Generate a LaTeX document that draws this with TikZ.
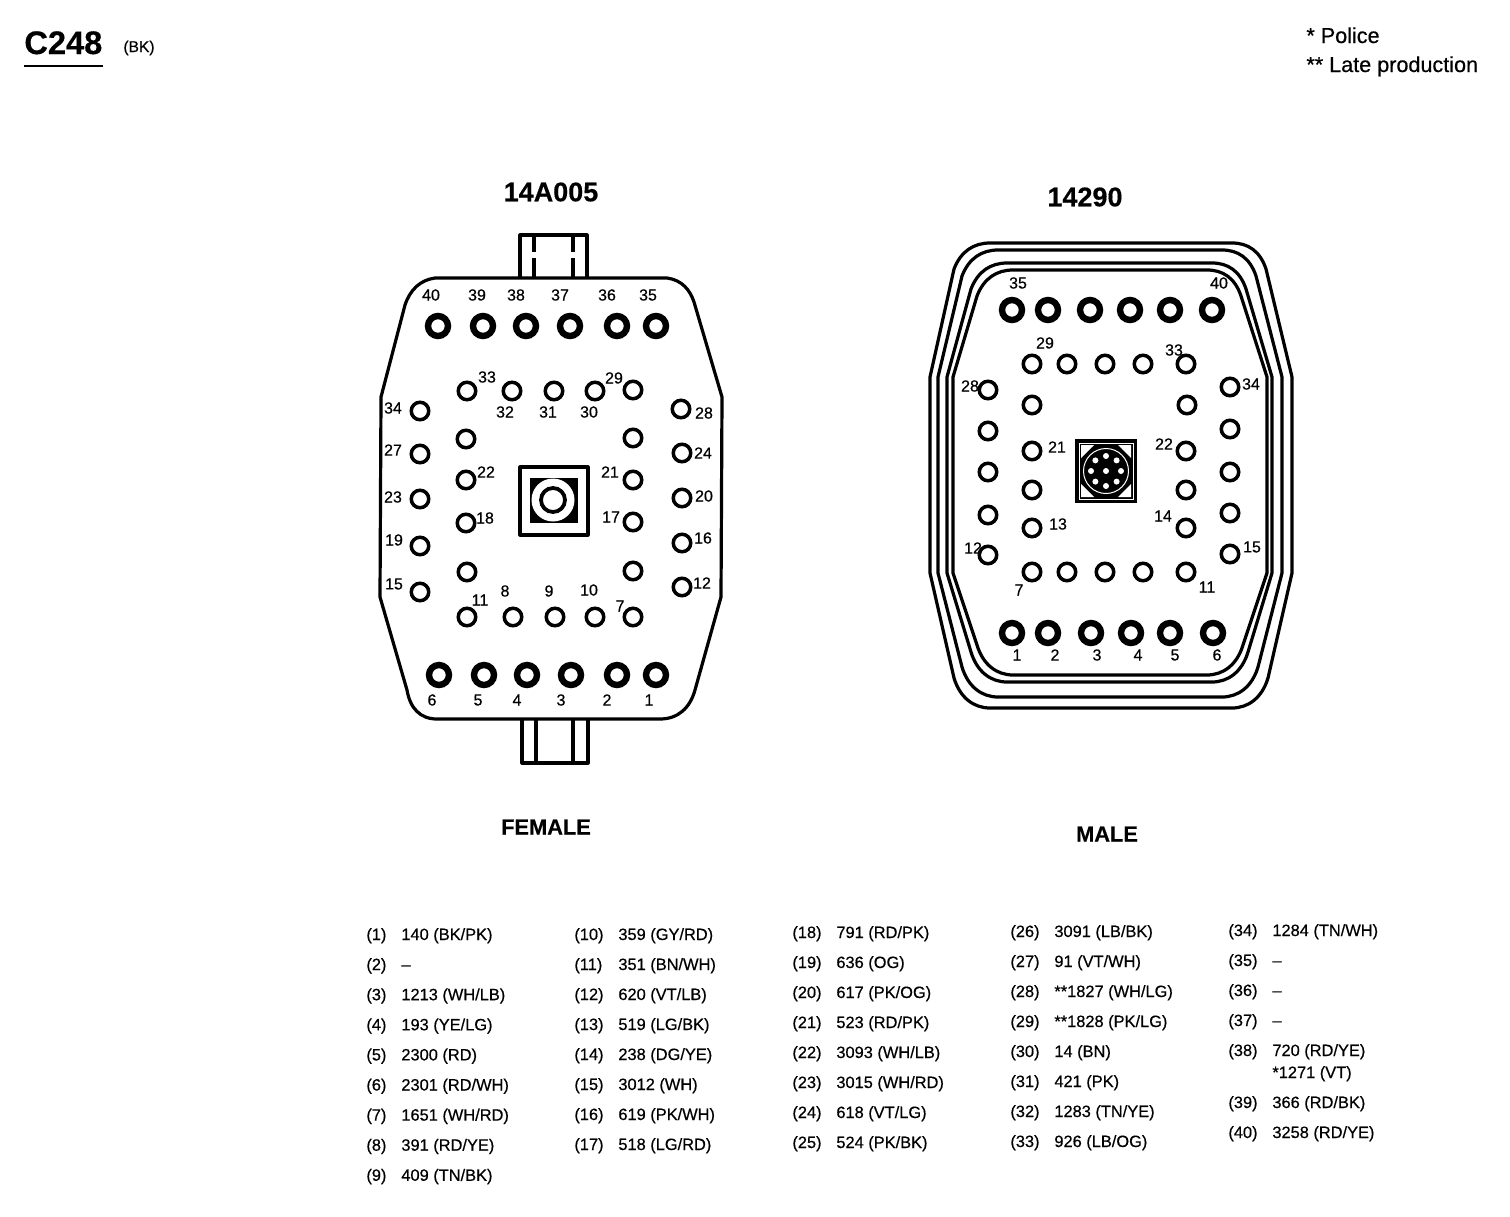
\documentclass[tikz,border=0pt]{standalone}
\usepackage{fontspec}
\setmainfont{Liberation Sans}[FakeBold=0.5, BoldFeatures={FakeBold=0.4}]
\usepackage{tikz}
\usetikzlibrary{positioning}

\tikzset{
  outline/.style={draw, line width=1.6pt, line join=round},
  bigpin/.style={draw, circle, line width=3.2pt, minimum size=10pt, inner sep=0pt},
  smallpin/.style={draw, circle, line width=1.75pt, minimum size=8.75pt, inner sep=0pt},
  pinlabel/.style={inner sep=0pt, font=\fontsize{8}{8}\selectfont},
  wirelabel/.style={inner sep=0pt, anchor=base west, font=\fontsize{8.2}{8.2}\selectfont},
  title/.style={inner sep=0pt, font=\fontsize{13.5}{13.5}\selectfont\bfseries},
  side/.style={inner sep=0pt, font=\fontsize{10.9}{10.9}\selectfont\bfseries}
}

% one column of the wire table
\newcommand{\wirecolumn}[5]{
  \foreach \num/\wire [count=\i from 0] in {#5} {
    \node[wirelabel] (w\num) at (#1, #4+\i*#3) {(\num)};
    \node[wirelabel] (d\num) at (#2, #4+\i*#3) {\wire};
  }
}

\begin{document}
\begin{tikzpicture}[x=0.5pt, y=-0.5pt]
  \useasboundingbox (0,0) rectangle (1510,1216);

  % heading
  \node[inner sep=0pt, anchor=base west, font=\fontsize{16.3}{16.3}\selectfont\bfseries] (conn) at (24,54) {C248};
  \node[inner sep=0pt, anchor=base west, font=\fontsize{7.8}{7.8}\selectfont] (color) at (123,52) {(BK)};
  \coordinate (ruleleft) at (24,66);
  \coordinate (ruleright) at (103,66);
  \draw[line width=1pt] (ruleleft) -- (ruleright);
  \node[inner sep=0pt, anchor=base west, font=\fontsize{10.8}{10.8}\selectfont] (police) at (1306,43) {* Police};
  \node[inner sep=0pt, anchor=base west, font=\fontsize{10.8}{10.8}\selectfont] (late) at (1306,72) {** Late production};

  \node[title] (ftitle) at (551,192) {14A005};
  \node[title] (mtitle) at (1085,197) {14290};
  \node[side] (fside) at (546,827) {FEMALE};
  \node[side] (mside) at (1107,834) {MALE};

  % female body
  \draw[outline] (435,278) -- (667,278) .. controls (682,280) and (690,290) .. (694,302)
    -- (722,397) -- (721,597) -- (695,690) .. controls (690,708) and (678,719) .. (660,719)
    -- (437,719) .. controls (420,719) and (410,708) .. (407,690) -- (380,597) -- (381,397)
    -- (405,305) .. controls (410,290) and (420,280) .. (435,278) -- cycle;
  \draw[outline] (520,278) -- (520,235) -- (587,235) -- (587,278);
  \draw[outline] (534,235) -- (534,252) (534,258) -- (534,278);
  \draw[outline] (573,235) -- (573,252) (573,258) -- (573,278);
  \draw[outline] (522,720) -- (522,763) -- (588,763) -- (588,720);
  \draw[outline] (536,720) -- (536,763);
  \draw[outline] (573,720) -- (573,763);

  % female centre
  \draw[outline] (520,467) rectangle (588,535);
  \fill (530,478) rectangle (578,523);
  \fill[white] (553,500) circle [radius=10.75pt];
  \draw[line width=1.9pt] (553,500) circle [radius=6pt];

  % male body
  \foreach \l/\t/\r/\b in {930/243/1292/708, 938/250/1282/697, 947/263/1272/682, 953/270/1267/675} {
    \draw[outline] (\l,377) -- (\l+24,\t+26) .. controls (\l+31,\t+8) and (\l+44,\t) .. (\l+60,\t)
      -- (\r-60,\t) .. controls (\r-44,\t) and (\r-32,\t+8) .. (\r-26,\t+26) -- (\r,377)
      -- (\r,573) -- (\r-24,\b-30) .. controls (\r-30,\b-10) and (\r-44,\b) .. (\r-60,\b)
      -- (\l+60,\b) .. controls (\l+44,\b) and (\l+30,\b-10) .. (\l+24,\b-30) -- (\l,573) -- cycle;
  }

  % male centre
  \fill (1075,439) rectangle (1137,503);
  \draw[white, line width=0.5pt] (1079,443) rectangle (1133,499);
  \foreach \a/\b/\c/\d/\e/\f in {1081/445/1094/445/1081/458, 1131/445/1118/445/1131/458, 1081/497/1094/497/1081/484, 1131/497/1118/497/1131/484} {
    \fill[white] (\a,\b) -- (\c,\d) -- (\e,\f) -- cycle;
  }
  \draw[white, line width=0.5pt] (1106,471) circle [radius=11.25pt];
  \fill[white] (1106,471) circle [radius=1.5pt];
  \foreach \a in {0,45,...,315} {
    \fill[white] (1106,471) ++(\a:15) circle [radius=1.5pt];
  }

  % female pins
  \foreach \name/\x/\y in {40/438/326, 39/483/326, 38/526/326, 37/570/326, 36/617/326, 35/656/326,
    6/439/675, 5/484/675, 4/527/675, 3/571/675, 2/617/675, 1/656/675} {
    \node[bigpin] (f\name) at (\x,\y) {};
  }
  \foreach \name/\x/\y in {34/420/411, 27/420/454, 23/420/499, 19/420/546, 15/420/592,
    28/681/409, 24/682/453, 20/682/498, 16/682/543, 12/682/587,
    33/467/391, 32/512/391, 31/554/391, 30/595/391, 29/633/390,
    a/466/439, 22/466/480, 18/466/523, b/467/572, 11/467/617,
    8/513/617, 9/555/617, 10/595/617, 7/633/617,
    c/633/438, 21/633/480, 17/633/522, d/633/571} {
    \node[smallpin] (f\name) at (\x,\y) {};
  }
  \foreach \name/\x/\y in {40/431/295, 39/477/295, 38/516/295, 37/560/295, 36/607/295, 35/648/295,
    34/393/408, 27/393/450, 23/393/497, 19/394/540, 15/394/584,
    28/704/413, 24/703/453, 20/704/496, 16/703/538, 12/702/583,
    33/487/377, 32/505/412, 31/548/412, 30/589/412, 29/614/378,
    22/486/472, 21/610/472, 18/485/518, 17/611/517,
    11/480/600, 8/505/591, 9/549/591, 10/589/590, 7/620/606,
    6/432/700, 5/478/700, 4/517/700, 3/561/700, 2/607/700, 1/649/700} {
    \node[pinlabel] (fl\name) at (\x,\y) {\name};
  }

  % male pins
  \foreach \name/\x/\y in {35/1012/310, 36/1048/310, 37/1090/310, 38/1130/310, 39/1170/310, 40/1212/310,
    1/1012/633, 2/1048/633, 3/1091/633, 4/1131/633, 5/1170/633, 6/1213/633} {
    \node[bigpin] (m\name) at (\x,\y) {};
  }
  \foreach \name/\x/\y in {29/1032/364, 30/1067/364, 31/1105/364, 32/1143/364, 33/1186/364,
    a/1032/405, 21/1032/451, b/1032/490, 13/1032/528,
    7/1032/572, 8/1067/572, 9/1105/572, 10/1143/572, 11/1186/572,
    c/1187/405, 22/1186/451, d/1186/490, 14/1186/528,
    28/988/390, e/988/431, f/988/472, g/988/515, 12/988/555,
    34/1230/387, h/1230/429, i/1230/472, j/1230/513, 15/1230/554} {
    \node[smallpin] (m\name) at (\x,\y) {};
  }
  \foreach \name/\x/\y in {35/1018/283, 40/1219/283, 29/1045/343, 33/1174/350, 28/970/386, 34/1251/384,
    21/1057/447, 22/1164/444, 13/1058/524, 14/1163/516, 12/973/548, 15/1252/547, 7/1019/590, 11/1207/587,
    1/1017/655, 2/1055/655, 3/1097/655, 4/1138/655, 5/1175/655, 6/1217/655} {
    \node[pinlabel] (ml\name) at (\x,\y) {\name};
  }

  % wire table
  \wirecolumn{366}{401}{30.1}{940}{1/{140 (BK/PK)}, 2/{--}, 3/{1213 (WH/LB)}, 4/{193 (YE/LG)}, 5/{2300 (RD)},
    6/{2301 (RD/WH)}, 7/{1651 (WH/RD)}, 8/{391 (RD/YE)}, 9/{409 (TN/BK)}}
  \wirecolumn{574}{618}{30}{940}{10/{359 (GY/RD)}, 11/{351 (BN/WH)}, 12/{620 (VT/LB)}, 13/{519 (LG/BK)},
    14/{238 (DG/YE)}, 15/{3012 (WH)}, 16/{619 (PK/WH)}, 17/{518 (LG/RD)}}
  \wirecolumn{792}{836}{30}{938}{18/{791 (RD/PK)}, 19/{636 (OG)}, 20/{617 (PK/OG)}, 21/{523 (RD/PK)},
    22/{3093 (WH/LB)}, 23/{3015 (WH/RD)}, 24/{618 (VT/LG)}, 25/{524 (PK/BK)}}
  \wirecolumn{1010}{1054}{30}{937}{26/{3091 (LB/BK)}, 27/{91 (VT/WH)}, 28/{**1827 (WH/LG)}, 29/{**1828 (PK/LG)},
    30/{14 (BN)}, 31/{421 (PK)}, 32/{1283 (TN/YE)}, 33/{926 (LB/OG)}}
  \wirecolumn{1228}{1272}{30}{936}{34/{1284 (TN/WH)}, 35/{--}, 36/{--}, 37/{--}, 38/{720 (RD/YE)}}
  \node[wirelabel] (d38b) at (1272,1078) {*1271 (VT)};
  \wirecolumn{1228}{1272}{30}{1108}{39/{366 (RD/BK)}, 40/{3258 (RD/YE)}}
\end{tikzpicture}
\end{document}
